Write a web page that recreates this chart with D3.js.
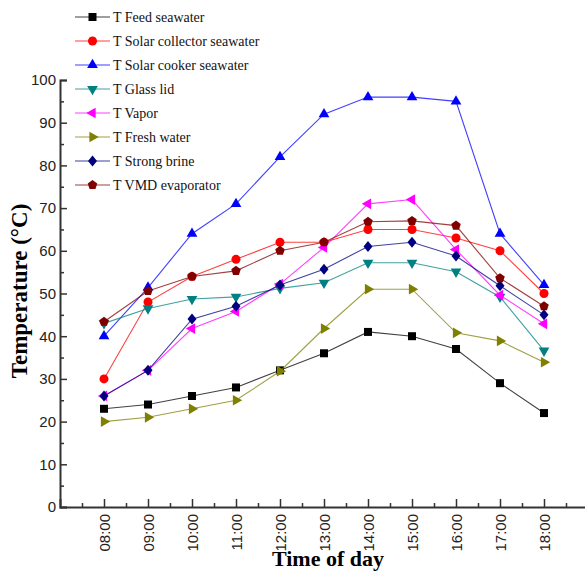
<!DOCTYPE html>
<html>
<head>
<meta charset="utf-8">
<script src="https://cdn.jsdelivr.net/npm/d3@7"></script>
<style>
  body { margin: 0; background: white; }
</style>
</head>
<body>
<svg id="chart"></svg>
<script>
let times = ["08:00", "09:00", "10:00", "11:00", "12:00", "13:00", "14:00", "15:00", "16:00", "17:00", "18:00"];
let hours = [8, 9, 10, 11, 12, 13, 14, 15, 16, 17, 18];
let yTicks = [0, 10, 20, 30, 40, 50, 60, 70, 80, 90, 100];

let feedSeawater = [23, 24, 26, 28, 32, 36, 41, 40, 37, 29, 22];
let collectorSeawater = [30, 48, 54, 58, 62, 62, 65, 65, 63, 60, 50];
let cookerSeawater = [40, 51.4, 64, 71, 82, 92, 96, 96, 95, 64, 52];
let glassLid = [43, 46.5, 48.7, 49.2, 51.2, 52.5, 57.2, 57.2, 55.1, 49.2, 36.6];
let vapor = [26, 32, 41.8, 45.8, 52.2, 60.8, 71, 72, 60.3, 49.6, 42.9];
let freshWater = [20, 21, 23, 25, 31.8, 41.8, 51, 51, 40.8, 38.9, 33.9];
let strongBrine = [26, 32, 44, 47, 52, 55.7, 61, 62, 58.8, 51.8, 45];
let vmdEvaporator = [43.4, 50.6, 54, 55.3, 60, 62, 66.8, 67, 65.9, 53.6, 47];

let seriesNames = ["T Feed seawater", "T Solar collector seawater", "T Solar cooker seawater", "T Glass lid",
    "T Vapor", "T Fresh water", "T Strong brine", "T VMD evaporator"];
let seriesValues = [feedSeawater, collectorSeawater, cookerSeawater, glassLid, vapor, freshWater, strongBrine, vmdEvaporator];
let seriesColors = ["#000000", "#ff0000", "#0000ff", "#008080", "#ff00ff", "#808000", "#000080", "#800000"];
let seriesShapes = ["square", "circle", "up", "down", "left", "right", "diamond", "pentagon"];

let width = 585;
let height = 576;

let svg = d3.select("#chart")
    .attr("width", width)
    .attr("height", height);

let x = d3.scaleLinear().domain([7, 19]).range([60, 588]);
let y = d3.scaleLinear().domain([0, 100]).range([507, 80]);

// marker paths drawn around (0,0)
function polygon(points) {
    return "M" + points.map(p => p[0].toFixed(2) + "," + p[1].toFixed(2)).join("L") + "Z";
}

function triangle(angle, r) {
    let pts = [];
    for (let k = 0; k < 3; k++) {
        let a = (angle + k * 120) * Math.PI / 180;
        pts.push([r * Math.cos(a), r * Math.sin(a)]);
    }
    return polygon(pts);
}

function markerPath(shape) {
    if (shape === "square") return polygon([[-4, -4], [4, -4], [4, 4], [-4, 4]]);
    if (shape === "circle") return d3.symbol().type(d3.symbolCircle).size(64)();
    if (shape === "up") return triangle(-90, 6.2);
    if (shape === "down") return triangle(90, 6.2);
    if (shape === "left") return triangle(180, 6.2);
    if (shape === "right") return triangle(0, 6.2);
    if (shape === "diamond") return polygon([[0, -5.5], [4.5, 0], [0, 5.5], [-4.5, 0]]);
    let pts = [];
    for (let k = 0; k < 5; k++) {
        let a = (-90 + k * 72) * Math.PI / 180;
        pts.push([5 * Math.cos(a), 5 * Math.sin(a)]);
    }
    return polygon(pts);
}

// axes
let axisColor = "#333";

let yAxis = svg.append("g")
    .attr("transform", "translate(60,0)")
    .call(d3.axisLeft(y).tickValues(yTicks).tickSize(-7).tickPadding(4));

svg.append("g")
    .attr("transform", "translate(60,0)")
    .call(d3.axisLeft(y).tickValues(d3.range(5, 100, 10)).tickSize(-4).tickFormat(""))
    .select(".domain").remove();

yAxis.selectAll("text")
    .attr("font-family", "Liberation Sans, Arial, sans-serif")
    .attr("font-size", "15px")
    .attr("fill", "#222");

let xAxis = svg.append("g")
    .attr("transform", "translate(0,507)")
    .call(d3.axisBottom(x).tickValues(hours).tickSize(-8).tickFormat((d, i) => times[i]));

svg.append("g")
    .attr("transform", "translate(0,507)")
    .call(d3.axisBottom(x).tickValues(d3.range(7.5, 19, 1)).tickSize(-4).tickFormat(""))
    .select(".domain").remove();

xAxis.selectAll("text")
    .attr("font-family", "Liberation Sans, Arial, sans-serif")
    .attr("font-size", "15px")
    .attr("fill", "#222")
    .attr("text-anchor", "end")
    .attr("transform", "rotate(-90)")
    .attr("x", -7)
    .attr("y", 0)
    .attr("dy", "0.35em");

svg.selectAll(".domain").attr("stroke", axisColor).attr("stroke-width", 2);
svg.selectAll(".tick line").attr("stroke", axisColor).attr("stroke-width", 1.5);

// axis titles
svg.append("text")
    .attr("x", 328)
    .attr("y", 566)
    .attr("text-anchor", "middle")
    .attr("font-family", "Liberation Serif, Times New Roman, serif")
    .attr("font-weight", "bold")
    .attr("font-size", "22px")
    .text("Time of day");

svg.append("text")
    .attr("transform", "translate(27,291) rotate(-90)")
    .attr("text-anchor", "middle")
    .attr("font-family", "Liberation Serif, Times New Roman, serif")
    .attr("font-weight", "bold")
    .attr("font-size", "23px")
    .text("Temperature (\u00B0C)");

// series
let line = d3.line()
    .x((d, i) => x(hours[i]))
    .y(d => y(d));

seriesValues.forEach(function (values, s) {
    let g = svg.append("g");
    g.append("path")
        .datum(values)
        .attr("d", line)
        .attr("fill", "none")
        .attr("stroke", seriesColors[s])
        .attr("stroke-opacity", 0.75)
        .attr("stroke-width", 1.1);

    g.selectAll("path.marker")
        .data(values)
        .join("path")
        .attr("class", "marker")
        .attr("transform", (d, i) => "translate(" + x(hours[i]) + "," + y(d) + ")")
        .attr("d", markerPath(seriesShapes[s]))
        .attr("fill", seriesColors[s]);
});

// legend
let legend = svg.append("g");
seriesNames.forEach(function (name, s) {
    let ly = 17 + s * 24;
    legend.append("line")
        .attr("x1", 75)
        .attr("x2", 110)
        .attr("y1", ly)
        .attr("y2", ly)
        .attr("stroke", seriesColors[s])
        .attr("stroke-opacity", 0.75)
        .attr("stroke-width", 1.1);
    legend.append("path")
        .attr("transform", "translate(92.5," + ly + ")")
        .attr("d", markerPath(seriesShapes[s]))
        .attr("fill", seriesColors[s]);
    legend.append("text")
        .attr("x", 113)
        .attr("y", ly + 5)
        .attr("font-family", "Liberation Serif, Times New Roman, serif")
        .attr("font-size", "14px")
        .attr("fill", "#111")
        .text(name);
});
</script>
</body>
</html>
